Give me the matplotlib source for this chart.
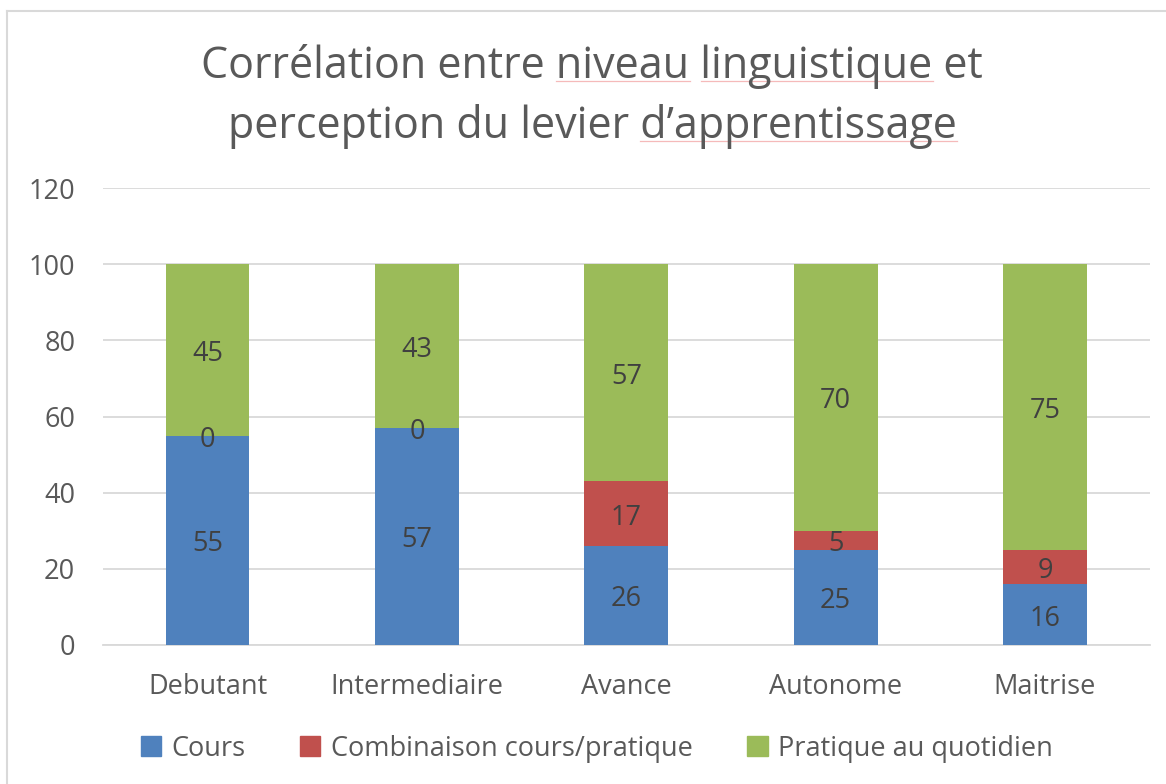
import matplotlib.pyplot as plt
import matplotlib.patches as mpatches
import numpy as np

plt.rcParams['font.family'] = ['Open Sans', 'DejaVu Sans']

niveaux = ['Debutant', 'Intermediaire', 'Avance', 'Autonome', 'Maitrise']
cours = [55, 57, 26, 25, 16]
combinaison = [0, 0, 17, 5, 9]
pratique = [45, 43, 57, 70, 75]
series_names = ['Cours', 'Combinaison cours/pratique', 'Pratique au quotidien']
colors = ['#4F81BD', '#C0504D', '#9BBB59']

title1 = 'Corrélation entre niveau linguistique et'
title2 = 'perception du levier d\u2019apprentissage'
# words with the spell-check underline in the original
marked = [(title1, ['niveau', 'linguistique']), (title2, ['d\u2019apprentissage'])]

fig = plt.figure(figsize=(11.66, 7.84), dpi=100)
ax = fig.add_axes([0.0883, 0.1773, 0.8977, 0.5829])

x = np.arange(len(niveaux))
bottom = np.zeros(len(niveaux))
handles = []
for vals, name, c in zip([cours, combinaison, pratique], series_names, colors):
    vals = np.array(vals, dtype=float)
    ax.bar(x, vals, 0.4, bottom=bottom, color=c, zorder=3, label=name)
    for xi, b, v in zip(x, bottom, vals):
        ax.annotate('%d' % v, (xi, b + v / 2), xytext=(0, -4),
                    textcoords='offset pixels', ha='center', va='center',
                    fontsize=19.5, color='#404040', zorder=4)
    bottom += vals
    handles.append(mpatches.Patch(color=c, label=name))

ax.set_xlim(-0.5, len(niveaux) - 0.5)
ax.set_ylim(0, 120)
ax.set_yticks(range(0, 121, 20))
ax.set_xticks(x)
ax.set_xticklabels(niveaux)
ax.yaxis.grid(True, color='#D9D9D9', linewidth=1.3, zorder=0)
for s in ['top', 'right', 'left']:
    ax.spines[s].set_visible(False)
ax.spines['bottom'].set_color('#D9D9D9')
ax.spines['bottom'].set_linewidth(1.3)
ax.tick_params(axis='both', length=0, labelsize=19.5, labelcolor='#595959')
ax.tick_params(axis='y', pad=20)
ax.tick_params(axis='x', pad=20)

tfs = 31
t1 = fig.text(0.508, 0.915, title1, ha='center', va='center',
              fontsize=tfs, color='#595959')
t2 = fig.text(0.508, 0.839, title2, ha='center', va='center',
              fontsize=tfs, color='#595959')

# faint red spell-check underlines under some words
renderer = fig.canvas.get_renderer()
W, H = fig.bbox.width, fig.bbox.height


def text_width(s):
    tmp = fig.text(0, 0, s, fontsize=tfs)
    w = tmp.get_window_extent(renderer).width
    tmp.remove()
    return w


for t, (line, words) in zip([t1, t2], marked):
    bb = t.get_window_extent(renderer)
    for wd in words:
        i = line.index(wd)
        x0 = bb.x0 + text_width(line[:i]) if i else bb.x0
        x1 = bb.x0 + text_width(line[:i + len(wd)])
        yl = bb.y0 + 0.17 * bb.height
        fig.add_artist(plt.Line2D([x0 / W, x1 / W], [yl / H, yl / H],
                                  color='#F5BABA', linewidth=0.9,
                                  transform=fig.transFigure))

fig.legend(handles=handles, loc='center', bbox_to_anchor=(0.512, 0.045),
           ncol=3, frameon=False, fontsize=19.5, handlelength=0.75,
           handleheight=0.75, handletextpad=0.4, columnspacing=2.0,
           labelcolor='#595959')

# chart border
fig.add_artist(plt.Line2D([0.006, 0.006], [0, 0.986], color='#D9D9D9',
                          linewidth=1.5, transform=fig.transFigure))
fig.add_artist(plt.Line2D([0.006, 1.0], [0.986, 0.986], color='#D9D9D9',
                          linewidth=1.5, transform=fig.transFigure))

fig.savefig('out.png', dpi=100)
